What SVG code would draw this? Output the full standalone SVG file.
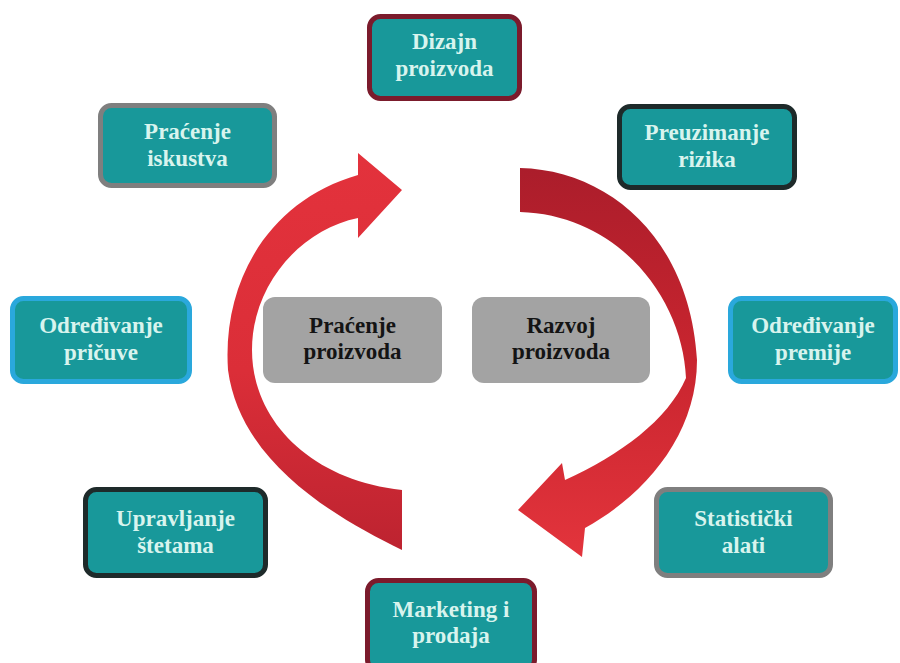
<svg xmlns="http://www.w3.org/2000/svg" width="900" height="663" viewBox="0 0 900 663">
<defs>
<style>
.box{fill:#18989a;stroke-width:5}
.mar{stroke:#7b1b2c}
.gry{stroke:#7f7f7f}
.drk{stroke:#1e2a2a}
.blu{stroke:#2aa8dc}
.cen{fill:#a3a3a3}
.t{font-family:'Liberation Serif','DejaVu Serif',serif;font-weight:bold;font-size:23px;text-anchor:middle;fill:#d8f4ee}
.tc{font-family:'Liberation Serif','DejaVu Serif',serif;font-weight:bold;font-size:23px;text-anchor:middle;fill:#141414}
</style>
<linearGradient id="gl" x1="0" y1="0" x2="0" y2="1">
<stop offset="0" stop-color="#e3323c"/>
<stop offset="0.55" stop-color="#db2e38"/>
<stop offset="1" stop-color="#bd2330"/>
</linearGradient>
<linearGradient id="gr" x1="0" y1="0" x2="0" y2="1">
<stop offset="0" stop-color="#ab1d2b"/>
<stop offset="0.5" stop-color="#c9252f"/>
<stop offset="1" stop-color="#e3343c"/>
</linearGradient>
</defs>
<rect width="900" height="663" fill="#ffffff"/>
<g id="connectors">
<path fill="url(#gl)" d="M402,550 C330,515 240,460 228,370 C222,280 270,200 358,175 L358,153 L402,190 L358,238 L358,218 C300,230 252,285 252,350 C252,420 310,480 402,490 Z"/>
<path fill="url(#gr)" d="M520,168 C610,170 690,240 697,360 C697,435 645,495 585,528 L582,557 L518,510 L562,463 L565,480 C620,455 668,420 686,378 C683,300 620,215 520,212 Z"/>
</g>
<g id="n-dizajn"><rect class="box mar" x="369.5" y="16.5" width="150" height="82" rx="11"/><text class="t" x="444.5" y="49">Dizajn</text><text class="t" x="444.5" y="76">proizvoda</text></g>
<g id="n-iskustva"><rect class="box gry" x="100.5" y="105.5" width="174" height="80" rx="11"/><text class="t" x="187.5" y="139">Praćenje</text><text class="t" x="187.5" y="166">iskustva</text></g>
<g id="n-rizika"><rect class="box drk" x="619.5" y="106.5" width="175" height="81" rx="11"/><text class="t" x="707" y="140">Preuzimanje</text><text class="t" x="707" y="167">rizika</text></g>
<g id="n-pricuve"><rect class="box blu" x="12.5" y="298.5" width="177" height="83" rx="11"/><text class="t" x="101" y="333">Određivanje</text><text class="t" x="101" y="360">pričuve</text></g>
<g id="n-premije"><rect class="box blu" x="730.5" y="298.5" width="165" height="83" rx="11"/><text class="t" x="813" y="333">Određivanje</text><text class="t" x="813" y="360">premije</text></g>
<g id="n-pracenje"><rect class="cen" x="263" y="297" width="179" height="86" rx="12"/><text class="tc" x="352.5" y="333">Praćenje</text><text class="tc" x="352.5" y="359">proizvoda</text></g>
<g id="n-razvoj"><rect class="cen" x="472" y="297" width="178" height="86" rx="12"/><text class="tc" x="561" y="333">Razvoj</text><text class="tc" x="561" y="359">proizvoda</text></g>
<g id="n-stetama"><rect class="box drk" x="85.5" y="489.5" width="180" height="86" rx="11"/><text class="t" x="175.5" y="526">Upravljanje</text><text class="t" x="175.5" y="553">štetama</text></g>
<g id="n-alati"><rect class="box gry" x="656.5" y="489.5" width="174" height="86" rx="11"/><text class="t" x="743.5" y="526">Statistički</text><text class="t" x="743.5" y="553">alati</text></g>
<g id="n-marketing"><rect class="box mar" x="367.5" y="580.5" width="167" height="90" rx="11"/><text class="t" x="451" y="617">Marketing i</text><text class="t" x="451" y="643">prodaja</text></g>
</svg>
